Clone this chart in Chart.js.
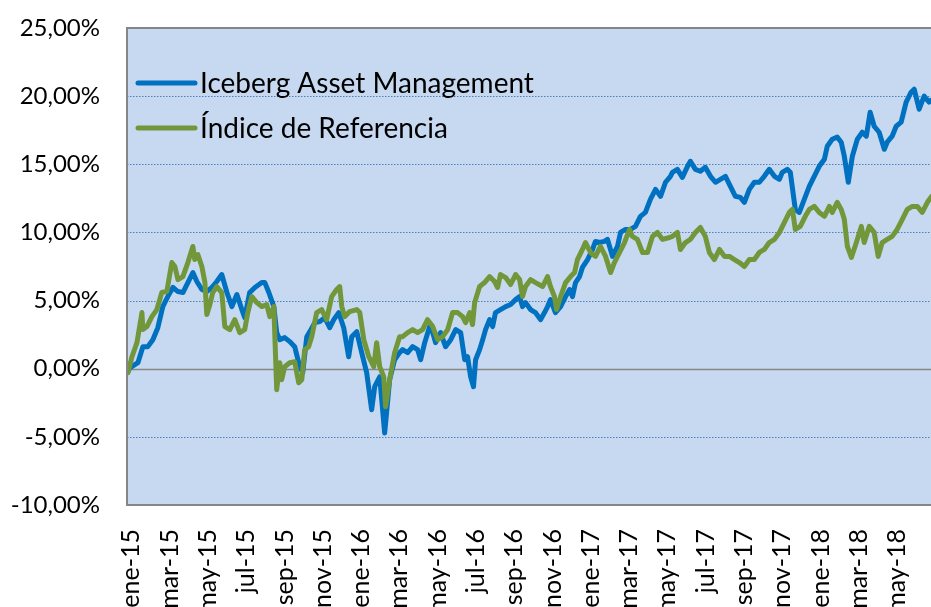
<!DOCTYPE html>
<html><head><meta charset="utf-8">
<script src="https://cdn.jsdelivr.net/npm/chart.js@4"></script>
<style>
html,body{margin:0;padding:0;background:#fff;overflow:hidden;width:931px;height:607px}
#wrap{position:absolute;left:0;top:0;width:960px;height:607px}
</style>
</head><body><div id="wrap"><canvas id="c" width="960" height="607"></canvas></div>
<script>
const seriesNames = ['Iceberg Asset Management', 'Índice de Referencia'];
const tickLabels = ['ene-15','mar-15','may-15','jul-15','sep-15','nov-15','ene-16','mar-16','may-16','jul-16','sep-16','nov-16','ene-17','mar-17','may-17','jul-17','sep-17','nov-17','ene-18','mar-18','may-18'];
// x in months since ene-15, y in %
const iceMonths = [-0.18,-0.08,0.34,0.60,0.86,1.12,1.38,1.64,1.90,2.17,2.43,2.69,2.95,3.21,3.42,3.68,3.94,4.20,4.46,4.72,4.99,5.25,5.51,5.77,5.92,6.18,6.45,6.81,6.97,7.18,7.44,7.59,7.75,8.01,8.27,8.53,8.79,8.95,9.16,9.32,9.58,9.84,10.10,10.36,10.57,10.83,11.09,11.35,11.51,11.77,12.03,12.29,12.55,12.71,12.97,13.23,13.49,13.75,14.01,14.17,14.43,14.69,14.95,15.11,15.32,15.58,15.74,15.89,16.15,16.41,16.68,16.94,17.20,17.41,17.56,17.72,17.87,17.98,18.19,18.35,18.50,18.71,18.87,19.02,19.28,19.55,19.81,20.07,20.28,20.43,20.59,20.85,21.11,21.37,21.58,21.74,21.89,22.15,22.42,22.68,22.89,23.04,23.20,23.41,23.56,23.83,24.09,24.24,24.45,24.71,24.87,25.13,25.39,25.55,25.81,26.07,26.33,26.59,26.85,27.11,27.38,27.64,27.90,28.16,28.26,28.52,28.78,29.05,29.20,29.46,29.72,29.98,30.25,30.51,30.77,31.03,31.29,31.55,31.81,32.02,32.28,32.54,32.80,33.06,33.32,33.59,33.85,34.00,34.26,34.42,34.68,34.89,35.15,35.41,35.67,35.93,36.20,36.35,36.61,36.87,37.08,37.24,37.45,37.66,37.92,38.18,38.39,38.59,38.80,39.06,39.33,39.48,39.74,39.95,40.21,40.47,40.73,40.89,41.15,41.41,41.67,41.88];
const iceValues = [-0.22,0.07,0.44,1.62,1.62,2.13,3.01,4.56,5.29,5.96,5.66,5.59,6.32,7.06,6.40,5.81,5.66,5.96,6.40,6.91,5.59,4.56,5.44,4.34,3.75,5.59,5.96,6.32,6.32,5.59,4.56,2.65,2.13,2.28,1.99,1.62,0.15,-0.29,2.35,2.72,3.38,3.46,3.75,3.01,3.60,4.12,3.01,0.88,2.35,2.72,1.18,-0.29,-3.01,-1.32,-0.59,-4.71,-0.81,0.66,1.18,1.40,1.18,1.62,1.40,0.66,1.91,3.09,2.65,1.91,2.65,1.62,2.13,2.87,2.65,0.66,0.88,-0.59,-1.32,0.66,1.40,2.13,2.87,3.60,3.09,4.12,4.34,4.56,4.71,5.07,5.29,4.56,4.85,4.34,4.12,3.60,4.12,4.56,5.07,4.12,4.56,5.29,5.81,5.29,6.32,6.76,7.43,8.01,8.75,9.34,9.26,9.34,9.49,8.24,8.97,10.00,10.22,10.22,10.44,11.18,11.47,12.43,13.16,12.65,13.68,14.12,14.41,14.63,14.04,14.85,15.22,14.63,14.49,14.78,14.12,13.68,13.90,14.12,13.38,12.65,12.57,12.21,13.16,13.68,13.68,14.12,14.63,14.12,13.90,14.41,14.63,14.41,11.69,11.47,12.43,13.38,14.12,14.85,15.37,16.32,16.84,16.99,16.62,15.59,13.68,15.59,16.84,17.35,17.06,18.82,17.79,17.35,16.10,16.62,17.06,17.79,18.09,19.56,20.29,20.51,19.04,20.00,19.56,19.80];
const refMonths = [-0.18,0.03,0.29,0.55,0.60,0.81,1.07,1.33,1.59,1.85,2.11,2.27,2.43,2.69,2.95,3.21,3.31,3.47,3.68,3.84,3.94,4.10,4.25,4.46,4.72,4.88,5.14,5.40,5.66,5.92,6.08,6.29,6.55,6.81,7.07,7.23,7.44,7.59,7.75,7.85,8.01,8.27,8.53,8.74,8.90,9.05,9.26,9.42,9.68,9.94,10.20,10.46,10.72,10.88,10.99,11.14,11.40,11.77,11.93,12.14,12.40,12.66,12.81,12.97,13.18,13.28,13.49,13.75,14.01,14.17,14.43,14.69,14.95,15.21,15.47,15.74,16.00,16.26,16.52,16.78,17.04,17.30,17.46,17.67,17.82,17.93,18.19,18.45,18.71,18.97,19.13,19.28,19.55,19.81,20.07,20.28,20.43,20.59,20.85,21.11,21.48,21.74,21.89,22.10,22.21,22.42,22.68,22.94,23.15,23.30,23.56,23.72,23.98,24.24,24.50,24.77,25.03,25.23,25.50,25.76,26.02,26.17,26.43,26.70,26.96,27.22,27.48,27.74,28.11,28.26,28.52,28.68,28.94,29.20,29.46,29.72,29.98,30.19,30.45,30.72,30.98,31.24,31.50,31.76,32.02,32.28,32.54,32.80,33.06,33.32,33.59,33.85,34.11,34.37,34.53,34.68,34.94,35.20,35.41,35.67,35.93,36.20,36.46,36.61,36.87,37.08,37.24,37.40,37.61,37.87,38.13,38.28,38.54,38.80,39.01,39.22,39.48,39.74,40.00,40.27,40.53,40.79,41.05,41.31,41.58,41.80];
const refValues = [-0.29,0.88,1.91,4.12,2.87,3.09,3.82,4.34,5.59,5.66,7.79,7.50,6.54,6.76,7.79,8.97,8.01,8.38,7.50,6.32,3.97,4.71,5.59,6.03,5.59,3.09,2.87,3.60,2.65,2.87,4.12,5.29,4.85,4.56,4.71,3.82,4.56,-1.54,0.44,-0.81,0.15,0.44,0.51,-1.03,-0.81,1.40,1.62,2.35,4.12,4.34,3.60,5.29,5.81,6.03,4.56,3.82,4.19,4.34,4.12,2.13,0.88,0.15,1.91,0.15,-0.59,-2.79,-0.81,1.18,2.35,2.35,2.65,2.87,2.65,2.87,3.60,3.09,2.13,2.35,2.87,4.12,4.12,3.82,3.38,4.12,3.24,4.85,6.03,6.32,6.76,6.40,5.96,6.91,6.69,6.18,6.91,6.54,5.29,6.03,6.54,6.32,6.03,6.76,6.03,5.29,4.34,5.29,6.32,6.76,7.06,8.01,8.75,9.26,8.53,8.24,8.97,8.24,7.06,7.79,8.53,9.26,10.22,9.71,9.49,8.53,8.53,9.71,10.00,9.49,9.63,9.71,10.00,8.75,9.26,9.49,10.00,10.37,9.71,8.53,8.01,8.75,8.24,8.24,8.01,7.79,7.50,8.01,8.01,8.53,8.75,9.26,9.49,10.00,10.74,11.47,11.69,10.22,10.44,11.18,11.69,11.91,11.47,11.18,11.91,11.47,12.21,11.69,10.96,8.97,8.16,9.26,10.44,9.26,10.44,10.00,8.24,9.26,9.49,9.71,10.22,10.96,11.69,11.91,11.91,11.47,12.21,12.65];

const BLUE = '#0070C0', GREEN = '#71973A', PLOT_BG = 'rgb(198,217,240)', GRID = 'rgb(79,129,189)', FRAME = 'rgb(134,134,134)';
const FONT = 'Lato, "Liberation Sans", sans-serif';

const toPts = (xs, ys) => xs.map((x, i) => ({x, y: ys[i]}));

const decor = {
  id: 'decor',
  beforeDatasetsDraw(chart) {
    const {ctx, chartArea: a, scales: {y}} = chart;
    ctx.save();
    ctx.fillStyle = PLOT_BG;
    ctx.fillRect(a.left, a.top, a.right - a.left, a.bottom - a.top);
    y.ticks.forEach(t => {
      const py = Math.round(y.getPixelForValue(t.value)) + 0.5;
      ctx.beginPath();
      if (t.value === 0) { ctx.setLineDash([]); ctx.strokeStyle = FRAME; ctx.lineWidth = 1.6; }
      else { ctx.setLineDash([1.5, 1.5]); ctx.strokeStyle = GRID; ctx.lineWidth = 1.2; }
      ctx.moveTo(a.left, py); ctx.lineTo(a.right, py); ctx.stroke();
    });
    ctx.restore();
  },
  afterDatasetsDraw(chart) {
    const {ctx, chartArea: a} = chart;
    ctx.save();
    ctx.strokeStyle = FRAME; ctx.lineWidth = 2;
    ctx.strokeRect(a.left, a.top, a.right - a.left, a.bottom - a.top);
    const items = chart.data.datasets.map(d => ({label: d.label, color: d.borderColor, idx: d.legendIndex}));
    items.sort((p, q) => p.idx - q.idx);
    ctx.font = '28px ' + FONT;
    ctx.textBaseline = 'middle';
    items.forEach((it, i) => {
      const ly = a.top + 55 + i * 45;
      ctx.strokeStyle = it.color; ctx.lineWidth = 5; ctx.lineCap = 'round';
      ctx.beginPath(); ctx.moveTo(a.left + 11, ly); ctx.lineTo(a.left + 68, ly); ctx.stroke();
      ctx.fillStyle = '#000';
      ctx.fillText(it.label, a.left + 73, ly + 1);
    });
    ctx.restore();
  }
};

new Chart(document.getElementById('c'), {
  type: 'line',
  data: {
    datasets: [
      {label: seriesNames[0], legendIndex: 0, data: toPts(iceMonths, iceValues), borderColor: BLUE, borderWidth: 5, order: 1},
      {label: seriesNames[1], legendIndex: 1, data: toPts(refMonths, refValues), borderColor: GREEN, borderWidth: 5, order: 0}
    ]
  },
  options: {
    responsive: false,
    animation: false,
    parsing: false,
    layout: {padding: {left: 0, top: 28, right: 15, bottom: 0}},
    elements: {
      point: {radius: 0},
      line: {tension: 0, borderJoinStyle: 'round', borderCapStyle: 'round', fill: false}
    },
    plugins: {legend: {display: false}, tooltip: {enabled: false}},
    scales: {
      x: {
        type: 'linear', min: -0.23, max: 42.5,
        grid: {display: false, drawTicks: false}, border: {display: false},
        afterBuildTicks: s => { s.ticks = tickLabels.map((l, i) => ({value: i * 2})); },
        afterFit: s => { s.height = 102; },
        ticks: {
          autoSkip: false, minRotation: 90, maxRotation: 90, padding: 24,
          color: '#000', font: {family: FONT, size: 25},
          callback: (v, i) => tickLabels[i]
        }
      },
      y: {
        min: -10, max: 25,
        grid: {display: true, drawOnChartArea: false, drawTicks: true, tickLength: 27, tickColor: 'rgba(0,0,0,0)', color: 'rgba(0,0,0,0)'},
        border: {display: false},
        afterFit: s => { s.width = 127; },
        ticks: {
          stepSize: 5, padding: 0, color: '#000', font: {family: FONT, size: 24},
          callback: v => v.toFixed(2).replace('.', ',') + '%'
        }
      }
    }
  },
  plugins: [decor]
});
</script>
</body></html>
